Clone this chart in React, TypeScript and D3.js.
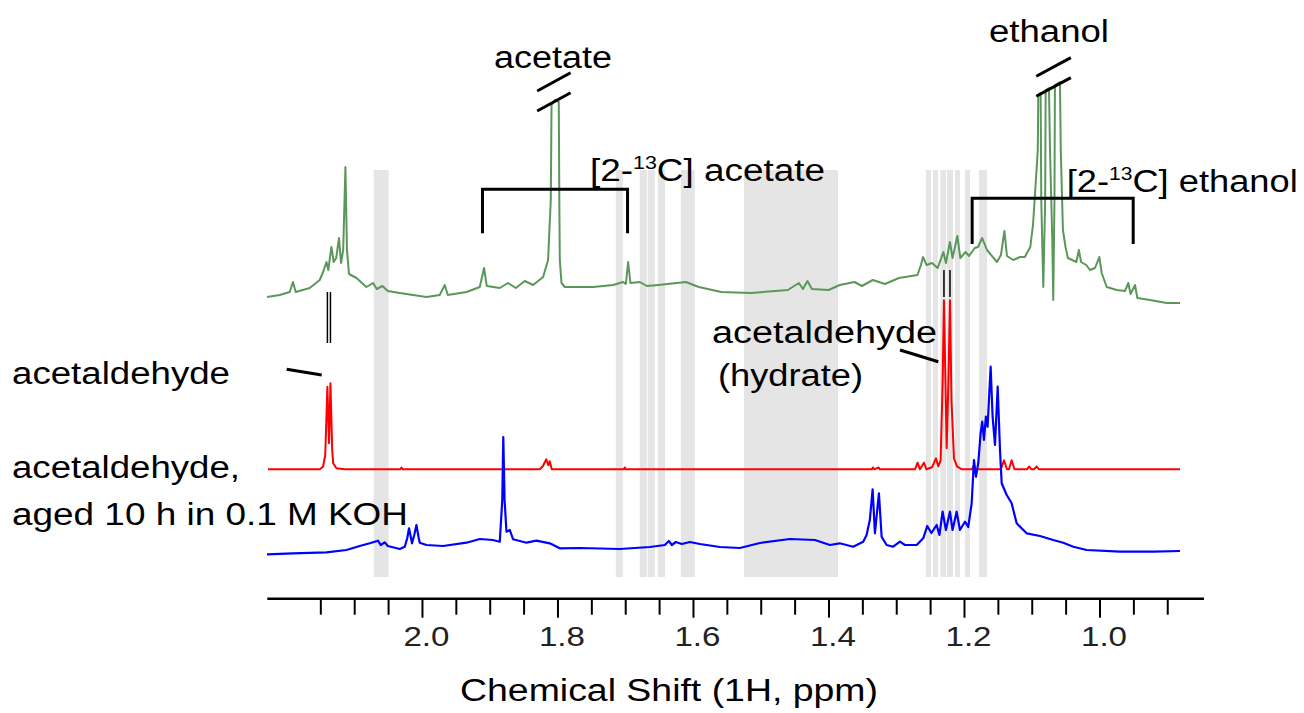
import React from "react";
import * as d3 from "d3";

// ---------- data (ppm, intensity in a.u.) ----------
const GREEN: [number, number][] = [
  [2.2294,3],[2.2107,5],[2.1959,8],[2.1911,18],[2.1871,8],[2.1664,12],[2.1516,20],[2.1472,27],[2.1417,38],[2.139,30],[2.1344,53],[2.131,38],[2.1273,42],[2.1232,62],[2.1202,37],[2.117,50],[2.1137,133],[2.1114,50],[2.1084,26],[2.0974,22],[2.0827,13],[2.0729,17],[2.0675,11],[2.0591,14],[2.0512,9],[2.0335,7],[1.9941,3],[1.9745,5],[1.9671,15],[1.9626,5],[1.935,8],[1.9154,13],[1.9091,32],[1.9051,14],[1.8859,12],[1.8736,17],[1.8622,12],[1.849,19],[1.8367,15],[1.8219,23],[1.8146,40],[1.8106,100],[1.8095,195],[1.8046,200],[1.7988,198],[1.798,100],[1.7973,40],[1.7948,17],[1.7899,13],[1.7481,13],[1.7186,15],[1.7038,18],[1.6998,16],[1.6964,38],[1.6931,17],[1.6792,18],[1.6688,14],[1.6519,15],[1.6245,17],[1.6112,18],[1.5921,13],[1.559,8],[1.5153,7],[1.4607,10],[1.4444,17],[1.4385,11],[1.4317,19],[1.4252,11],[1.4006,10],[1.3842,15],[1.3623,18],[1.3514,14],[1.3352,20],[1.3174,16],[1.2968,22],[1.2694,25],[1.2643,35],[1.2613,43],[1.2559,35],[1.248,37],[1.2395,32],[1.2312,48],[1.2274,37],[1.2215,58],[1.2176,42],[1.2106,64],[1.2061,42],[1.1984,48],[1.1934,44],[1.1849,52],[1.1801,53],[1.1739,62],[1.1668,50],[1.1521,38],[1.1462,45],[1.1411,69],[1.1373,44],[1.128,40],[1.1181,43],[1.111,43],[1.1029,53],[1.0989,75],[1.096,105],[1.0918,150],[1.0911,205],[1.0876,207],[1.0867,100],[1.0837,13],[1.0809,100],[1.0802,210],[1.0753,212],[1.0738,150],[1.0704,60],[1.069,0],[1.0672,100],[1.0665,215],[1.0591,218],[1.0579,150],[1.0547,70],[1.0509,53],[1.0474,42],[1.035,38],[1.0312,50],[1.0279,38],[1.0203,35],[1.0148,30],[1.0074,32],[1.001,43],[0.9975,27],[0.9901,13],[0.9753,10],[0.9631,9],[0.9582,17],[0.9549,6],[0.9483,15],[0.9449,2],[0.9262,0],[0.9015,-3],[0.8819,-3]
];

const RED: [number, number][] = [
  [2.228,0],[2.1516,0],[2.1468,2.6],[2.1435,14],[2.1403,82.6],[2.1379,26],[2.1358,86],[2.1332,19],[2.1317,6],[2.127,1],[2.1147,0],[2.0328,0],[2.031,1.8],[2.0291,0],[1.8268,0],[1.8224,3],[1.8172,10],[1.8143,4],[1.8121,8],[1.8091,0],[1.7028,0],[1.7014,1.8],[1.6999,0],[1.3366,0],[1.3352,1.8],[1.333,0],[1.327,1.8],[1.3248,0],[1.2731,0],[1.2692,6.6],[1.2658,0],[1.2598,6.6],[1.2562,0],[1.248,2],[1.2421,11],[1.2387,3],[1.2352,9],[1.2322,89],[1.2303,169],[1.2281,89],[1.2263,21],[1.2237,89],[1.2214,169],[1.2192,69],[1.2155,11],[1.2111,3],[1.2037,0],[1.1889,0],[1.187,3],[1.1845,0],[1.1462,0],[1.1417,9],[1.1373,0],[1.1343,0],[1.1304,9],[1.1262,0],[1.1078,0],[1.1044,2.8],[1.1011,0],[1.0974,0],[1.0934,2.8],[1.0901,0],[0.8819,0]
];

const BLUE: [number, number][] = [
  [2.2294,-2.3],[2.1911,-1.3],[2.1417,-0.3],[2.1122,2],[2.0926,6],[2.0778,8.7],[2.0656,11.3],[2.0616,7],[2.0557,9.7],[2.0512,6],[2.0335,3],[2.0261,5.3],[2.0224,14],[2.0198,23.7],[2.0154,8.7],[2.0121,17],[2.0089,27],[2.0055,14],[2.004,9.3],[1.9941,7],[1.9696,6],[1.935,9.3],[1.9154,13],[1.8962,12],[1.8859,10.3],[1.8822,52],[1.8807,115],[1.8788,52],[1.876,20.3],[1.8711,22],[1.8662,12.7],[1.8464,9.3],[1.8317,11.3],[1.8121,8.7],[1.7973,3.7],[1.7678,4],[1.7087,3],[1.6644,5],[1.6423,7],[1.6363,11],[1.6319,7],[1.626,10],[1.6172,8],[1.6053,10],[1.5906,8],[1.561,5],[1.5315,4],[1.502,9],[1.4577,13],[1.4207,12],[1.3986,7],[1.3842,8.7],[1.3642,5.3],[1.3495,10.3],[1.3445,17],[1.3397,32],[1.3356,62.7],[1.3322,18.7],[1.3263,58.7],[1.3223,15.3],[1.3149,7],[1.3052,5.3],[1.2953,10.3],[1.2879,7],[1.2706,7],[1.2609,13.7],[1.255,26],[1.2488,19],[1.2411,27],[1.237,17],[1.2323,40.3],[1.2274,22],[1.2215,40.3],[1.2176,22],[1.2116,40.3],[1.2067,22],[1.1993,30.3],[1.1945,25],[1.1894,48.7],[1.186,92],[1.1831,75.3],[1.1797,88.7],[1.1762,118.7],[1.1738,130.3],[1.1713,112],[1.1684,135.3],[1.1659,125.3],[1.1614,185.3],[1.1585,135.3],[1.155,107],[1.151,165.3],[1.1476,102],[1.1451,68.7],[1.1377,57],[1.1304,48.7],[1.123,28.7],[1.1082,18.7],[1.0886,16],[1.069,12],[1.0542,9.3],[1.0394,5.3],[1.0196,2],[0.9705,0.3],[0.9213,0.3],[0.8819,1]
];

// excluded (shaded) regions, ppm
const BANDS: [number, number][] = [
  [2.072,2.05],[1.7146,1.7043],[1.6792,1.669],[1.6675,1.657],[1.6526,1.642],[1.6186,1.598],[1.5255,1.3867],[1.2569,1.2495],[1.2466,1.2392],[1.2355,1.2274],[1.2259,1.217],[1.214,1.2067],[1.1993,1.1919],[1.1786,1.1668]
];

const MAJOR_TICKS = [2.0, 1.8, 1.6, 1.4, 1.2, 1.0];
const TICK_LABELS = ["2.0", "1.8", "1.6", "1.4", "1.2", "1.0"];
const ACETATE_13C: [number, number] = [1.9114, 1.6973];
const ETHANOL_13C: [number, number] = [1.1887, 0.951];
const ACETALDEHYDE_PEAKS = [2.1403, 2.1358];
const HYDRATE_PEAKS = [1.2303, 1.2214];
const ACETATE_PEAK = 1.806;
const ETHANOL_PEAK = 1.0685;

const FONT = "'Liberation Sans', Arial, Helvetica, sans-serif";

export default function App() {
  const x = d3.scaleLinear().domain([2.229, 0.8465]).range([267.3, 1204]);
  const yG = d3.scaleLinear().domain([0, 300]).range([300, 0]);
  const yR = d3.scaleLinear().domain([0, 300]).range([469.3, 169.3]);
  const yB = d3.scaleLinear().domain([0, 300]).range([552, 252]);

  const mk = (ys: d3.ScaleLinear<number, number>) =>
    d3.line<[number, number]>().x((d) => x(d[0])).y((d) => ys(d[1]));

  const minorTicks = d3.range(0, 26).map((i) => 2.15 - i * 0.05);
  const axisY = 598.7;

  const brk = (cx: number, y0: number, dx: number, dy: number, key: string) => (
    <g key={key}>
      <line x1={cx - dx} y1={y0} x2={cx + dx} y2={y0 - dy} stroke="#000" strokeWidth={3} />
      <line x1={cx - dx} y1={y0 + 20} x2={cx + dx} y2={y0 + 20 - dy} stroke="#000" strokeWidth={3} />
    </g>
  );

  return (
    <svg width={1304} height={713} style={{ position: "absolute", left: 0, top: 0 }} fontFamily={FONT}>
      <rect width={1304} height={713} fill="#fff" />
      {BANDS.map(([a, b], i) => (
        <rect key={i} x={x(a)} y={170} width={x(b) - x(a)} height={407} fill="#e5e5e5" />
      ))}

      <path d={mk(yG)(GREEN) || ""} fill="none" stroke="#5b975b" strokeWidth={2} strokeLinejoin="round" />
      <path d={mk(yR)(RED) || ""} fill="none" stroke="#ff0000" strokeWidth={2} strokeLinejoin="round" />
      <path d={mk(yB)(BLUE) || ""} fill="none" stroke="#0000ff" strokeWidth={2.2} strokeLinejoin="round" />

      {/* break marks */}
      {brk(x(ACETATE_PEAK), 91, 16.7, 18.3, "b1")}
      {brk(x(ETHANOL_PEAK), 76.3, 17.3, 18.7, "b2")}

      {/* 13C brackets */}
      {[[ACETATE_13C, 189.3, 233.3], [ETHANOL_13C, 198.3, 244]].map(([pp, yt, yb]: any, i) => (
        <path key={i} d={`M${x(pp[0])},${yb}V${yt}H${x(pp[1])}V${yb}`} fill="none" stroke="#000" strokeWidth={3} />
      ))}

      {/* peak position markers */}
      {ACETALDEHYDE_PEAKS.map((p, i) => (
        <line key={"a" + i} x1={x(p)} x2={x(p)} y1={292} y2={343} stroke="#000" strokeWidth={1.5} />
      ))}
      {HYDRATE_PEAKS.map((p, i) => (
        <line key={"h" + i} x1={x(p)} x2={x(p)} y1={270} y2={297} stroke="#000" strokeWidth={1.5} />
      ))}

      {/* leader lines */}
      <line x1={286.7} y1={369.3} x2={321.7} y2={375} stroke="#000" strokeWidth={3} />
      <line x1={900} y1={350} x2={938.3} y2={361.7} stroke="#000" strokeWidth={3} />

      {/* labels */}
      <g fontSize={31} fill="#000">
        <text x={494} y={68} textLength={118} lengthAdjust="spacingAndGlyphs">acetate</text>
        <text x={989} y={42} textLength={120} lengthAdjust="spacingAndGlyphs">ethanol</text>
        <text x={590} y={181} textLength={235} lengthAdjust="spacingAndGlyphs">
          [2-<tspan fontSize={18} dy={-12}>13</tspan><tspan dy={12}>C] acetate</tspan>
        </text>
        <text x={1066.7} y={192} textLength={231} lengthAdjust="spacingAndGlyphs">
          [2-<tspan fontSize={18} dy={-12}>13</tspan><tspan dy={12}>C] ethanol</tspan>
        </text>
        <text x={12} y={384} textLength={218} lengthAdjust="spacingAndGlyphs">acetaldehyde</text>
        <text x={12} y={478} textLength={228} lengthAdjust="spacingAndGlyphs">acetaldehyde,</text>
        <text x={12} y={525} textLength={396} lengthAdjust="spacingAndGlyphs">aged 10 h in 0.1 M KOH</text>
        <text x={712} y={343} textLength={225} lengthAdjust="spacingAndGlyphs">acetaldehyde</text>
        <text x={718} y={386} textLength={145} lengthAdjust="spacingAndGlyphs">(hydrate)</text>
        <text x={460} y={701} textLength={418} lengthAdjust="spacingAndGlyphs">Chemical Shift (1H, ppm)</text>
      </g>

      {/* x axis */}
      <line x1={267.3} x2={1204} y1={axisY} y2={axisY} stroke="#000" strokeWidth={2.5} />
      {minorTicks.map((t, i) => {
        const major = MAJOR_TICKS.some((m) => Math.abs(m - t) < 1e-6);
        return (
          <line key={i} x1={x(t)} x2={x(t)} y1={axisY} y2={axisY + (major ? 19 : 16)} stroke="#000" strokeWidth={2} />
        );
      })}
      {MAJOR_TICKS.map((t, i) => (
        <text key={i} x={x(t) - 19} y={646} fontSize={27} textLength={46} lengthAdjust="spacingAndGlyphs" fill="#222">
          {TICK_LABELS[i]}
        </text>
      ))}
    </svg>
  );
}
